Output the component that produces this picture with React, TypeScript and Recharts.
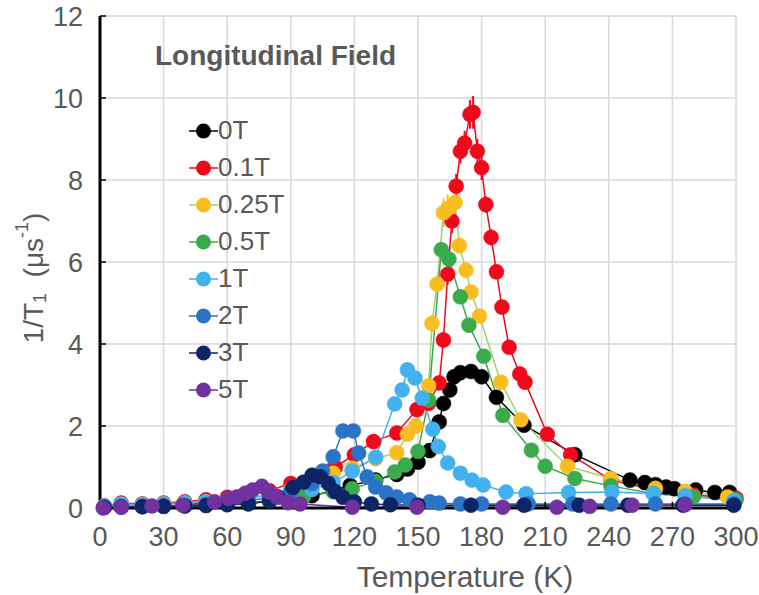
import React from 'react';
import { LineChart, Line, XAxis, YAxis, CartesianGrid, ErrorBar } from 'recharts';

document.body.style.margin = '0';

const FONT = "'Liberation Sans', Arial, sans-serif";
const TEXT = '#595959';

const xTicks = [0, 30, 60, 90, 120, 150, 180, 210, 240, 270, 300];
const yTicks = [0, 2, 4, 6, 8, 10, 12];

// 0T
const t0T = [2, 10, 20, 30, 40, 50, 60, 70, 80, 90, 100, 110, 118, 130, 140, 145, 150, 155.5, 160, 162, 165, 167, 170, 175, 180, 187, 200, 224, 250, 257, 262, 267, 271, 281, 290, 297];
const v0T = [0.02, 0.03, 0.04, 0.05, 0.06, 0.07, 0.09, 0.12, 0.16, 0.22, 0.3, 0.42, 0.55, 0.68, 0.82, 0.95, 1.12, 1.4, 2.1, 2.55, 2.88, 3.2, 3.3, 3.33, 3.2, 2.7, 2.02, 1.3, 0.68, 0.62, 0.57, 0.51, 0.47, 0.44, 0.38, 0.38];

// 0.1T
const t01T = [2, 10, 20, 30, 40, 50, 60, 70, 80, 90, 100, 111, 120, 129, 140, 149.5, 155, 160, 162, 164, 166, 168, 170, 172, 174.5, 176, 178, 180, 182, 184.5, 187, 189.6, 193, 198, 200.5, 211, 222, 241, 262, 280, 300];
const v01T = [0.05, 0.12, 0.1, 0.12, 0.15, 0.2, 0.26, 0.33, 0.42, 0.6, 0.72, 1.0, 1.3, 1.62, 1.83, 2.4, 2.55, 3.05, 4.1, 5.7, 7.0, 7.85, 8.7, 8.9, 9.6, 9.65, 8.7, 8.3, 7.4, 6.6, 5.76, 4.9, 3.92, 3.27, 3.07, 1.8, 1.3, 0.68, 0.44, 0.32, 0.24];
const e01T = [0, 0, 0, 0, 0, 0, 0, 0, 0, 0, 0, 0, 0, 0, 0, 0.1, 0.1, 0.15, 0.2, 0.25, 0.3, 0.3, 0.3, 0.3, 0.35, 0.4, 0.3, 0.3, 0.2, 0.2, 0.15, 0.1, 0.1, 0, 0, 0, 0, 0, 0, 0, 0];

// 0.25T
const t025T = [2, 10, 20, 30, 40, 50, 60, 70, 80, 90, 100, 110, 119, 130, 140, 145, 149, 155, 156.6, 159, 162, 164, 167.5, 169.5, 172.6, 175, 179, 189, 198.5, 220.5, 241, 262, 276, 296];
const v025T = [0.04, 0.08, 0.08, 0.1, 0.12, 0.15, 0.2, 0.25, 0.35, 0.45, 0.6, 0.85, 0.97, 1.2, 1.35, 1.8, 2.0, 2.98, 4.5, 5.46, 7.2, 7.3, 7.45, 6.4, 5.8, 5.27, 4.68, 3.07, 2.15, 1.02, 0.72, 0.48, 0.41, 0.27];
const e025T = [0, 0, 0, 0, 0, 0, 0, 0, 0, 0, 0, 0, 0, 0, 0, 0, 0, 0.1, 0.2, 0.2, 0.35, 0.35, 0.35, 0.2, 0.15, 0.1, 0.1, 0, 0, 0, 0, 0, 0, 0];

// 0.5T
const t05T = [2, 10, 20, 30, 40, 50, 60, 70, 80, 90, 96, 110, 119, 130, 139, 144, 150, 155, 161, 164.6, 170, 174, 181, 190, 203.5, 210, 224, 241, 261, 280, 300];
const v05T = [0.02, 0.03, 0.04, 0.05, 0.06, 0.08, 0.1, 0.13, 0.18, 0.24, 0.27, 0.4, 0.47, 0.65, 0.88, 1.05, 1.38, 2.63, 6.3, 6.07, 5.15, 4.46, 3.7, 2.26, 1.41, 1.02, 0.72, 0.54, 0.35, 0.28, 0.2];

// 1T
const t1T = [2, 10, 20, 30, 40, 50, 60, 70, 80, 90, 100, 110, 119, 130, 139, 142.5, 145, 148.6, 152, 157, 159.6, 164, 170, 175.5, 180.7, 191.5, 201, 221, 241.5, 261, 276, 299];
const v1T = [0.05, 0.1, 0.08, 0.1, 0.12, 0.15, 0.2, 0.25, 0.3, 0.4, 0.45, 0.62, 0.9, 1.24, 2.54, 2.88, 3.37, 3.17, 2.68, 1.92, 1.5, 1.1, 0.85, 0.68, 0.56, 0.39, 0.35, 0.38, 0.39, 0.35, 0.3, 0.18];

// 2T
const t2T = [2, 10, 20, 30, 40, 50, 60, 70, 80, 90, 100, 105, 110, 114.6, 119.5, 122, 126, 130, 135, 140, 146, 155.6, 160, 170, 180, 202, 223, 241, 262, 276, 299];
const v2T = [0.02, 0.03, 0.04, 0.05, 0.06, 0.08, 0.12, 0.18, 0.25, 0.4, 0.6, 0.9, 1.25, 1.88, 1.88, 1.34, 0.76, 0.51, 0.37, 0.27, 0.2, 0.15, 0.12, 0.1, 0.1, 0.1, 0.1, 0.1, 0.1, 0.1, 0.1];

// 3T
const t3T = [2, 10, 20, 30, 40, 50, 60, 70, 80, 84, 91, 96, 100, 104, 107.7, 111, 114.6, 120, 128, 137, 150, 175, 200, 226, 249, 275, 299];
const v3T = [0.02, 0.03, 0.03, 0.04, 0.05, 0.06, 0.08, 0.1, 0.18, 0.27, 0.5, 0.63, 0.8, 0.76, 0.6, 0.4, 0.26, 0.15, 0.1, 0.08, 0.07, 0.07, 0.07, 0.07, 0.07, 0.07, 0.07];

// 5T
const t5T = [1.5, 10, 24.5, 39, 54, 60.5, 64.5, 68.5, 72, 76.4, 79.5, 83.4, 88.7, 94.3, 119, 149.5, 190, 215.5, 231, 251, 276];
const v5T = [0.0, 0.02, 0.05, 0.07, 0.15, 0.24, 0.27, 0.36, 0.44, 0.53, 0.39, 0.27, 0.13, 0.1, 0.02, 0.02, 0.02, 0.02, 0.04, 0.07, 0.08];

const zip = (t: number[], v: number[], e?: number[]) =>
  t.map((x, i) => ({ t: x, v: v[i], e: e ? e[i] : 0 }));

const series = [
  { name: '0T', dot: '#000000', line: '#000000', data: zip(t0T, v0T) },
  { name: '0.1T', dot: '#f0091b', line: '#f0091b', data: zip(t01T, v01T, e01T), err: true },
  { name: '0.25T', dot: '#f8bd21', line: '#9bd46a', data: zip(t025T, v025T, e025T), err: true },
  { name: '0.5T', dot: '#3aaa4c', line: '#3aaa4c', data: zip(t05T, v05T) },
  { name: '1T', dot: '#43b1ee', line: '#43b1ee', data: zip(t1T, v1T) },
  { name: '2T', dot: '#2b73c4', line: '#2b73c4', data: zip(t2T, v2T) },
  { name: '3T', dot: '#0d2466', line: '#0d2466', data: zip(t3T, v3T) },
  { name: '5T', dot: '#7132a0', line: '#7132a0', data: zip(t5T, v5T) },
];

const YTitle = (props: any) => {
  const vb = props.viewBox;
  const cx = vb.x + 33;
  const cy = vb.y + vb.height / 2 + 16;
  return (
    <text x={cx} y={cy} transform={`rotate(-90 ${cx} ${cy})`} textAnchor="middle" dominantBaseline="central"
      fill={TEXT} fontFamily={FONT} fontSize={28}>
      1/T<tspan fontSize={18} dy={7}>1</tspan>
      <tspan dy={-7}>{'\u00a0\u00a0(\u03bcs'}</tspan>
      <tspan fontSize={18} dy={-11}>-1</tspan>
      <tspan dy={11}>)</tspan>
    </text>
  );
};

const XTitle = (props: any) => {
  const vb = props.viewBox;
  return (
    <text x={vb.x + 365} y={vb.y + 79} textAnchor="middle" fill={TEXT} fontFamily={FONT} fontSize={30}>
      Temperature (K)
    </text>
  );
};

export default function App() {
  return (
    <div style={{ position: 'relative', width: 759, height: 595, background: '#fff', fontFamily: FONT }}>
      <LineChart width={759} height={595} margin={{ top: 16, right: 23, bottom: 0, left: 0 }}>
        <CartesianGrid stroke="#d9d9d9" strokeWidth={1.5} />
        <XAxis
          dataKey="t"
          type="number"
          domain={[0, 300]}
          ticks={xTicks}
          height={87}
          axisLine={{ stroke: '#000', strokeWidth: 3 }}
          tickLine={{ stroke: '#000', strokeWidth: 1.5 }}
          tickSize={-6}
          tickMargin={25}
          tick={{ fill: TEXT, fontSize: 27, fontFamily: FONT }}
          allowDuplicatedCategory={false}
          label={{ content: XTitle }}
        />
        <XAxis xAxisId="top" orientation="top" type="number" domain={[0, 300]} height={0}
          axisLine={{ stroke: '#000', strokeWidth: 2.5 }} tick={false} tickLine={false} />
        <YAxis
          type="number"
          domain={[0, 12]}
          ticks={yTicks}
          width={100}
          axisLine={{ stroke: '#000', strokeWidth: 3 }}
          tickLine={{ stroke: '#000', strokeWidth: 1.5 }}
          tickSize={-6}
          tickMargin={23}
          tick={{ fill: TEXT, fontSize: 27, fontFamily: FONT }}
          label={{ content: YTitle }}
        />
        <YAxis yAxisId="right" orientation="right" type="number" domain={[0, 12]} width={0}
          axisLine={{ stroke: '#000', strokeWidth: 3.5 }} tick={false} tickLine={false} />
        {series.map((s) => (
          <Line
            key={s.name}
            data={s.data}
            dataKey="v"
            name={s.name}
            stroke={s.line}
            strokeWidth={1.5}
            dot={{ r: 7.5, fill: s.dot, stroke: s.dot, strokeWidth: 0.5 }}
            activeDot={false}
            isAnimationActive={false}
          >
            {s.err && <ErrorBar dataKey="e" direction="y" width={0} stroke={s.dot} strokeWidth={2} />}
          </Line>
        ))}
      </LineChart>

      <div style={{ position: 'absolute', left: 155, top: 40, fontSize: 28, fontWeight: 'bold', color: TEXT }}>
        Longitudinal Field
      </div>

      <div style={{ position: 'absolute', left: 189, top: 112 }}>
        {series.map((s) => (
          <div key={s.name} style={{ display: 'flex', alignItems: 'center', height: 37 }}>
            <svg width={29} height={20}>
              <line x1={0} y1={10} x2={29} y2={10} stroke={s.line} strokeWidth={1.5} />
              <circle cx={14.5} cy={10} r={7.5} fill={s.dot} />
            </svg>
            <span style={{ fontSize: 26, color: TEXT, lineHeight: '37px' }}>{s.name}</span>
          </div>
        ))}
      </div>
    </div>
  );
}
